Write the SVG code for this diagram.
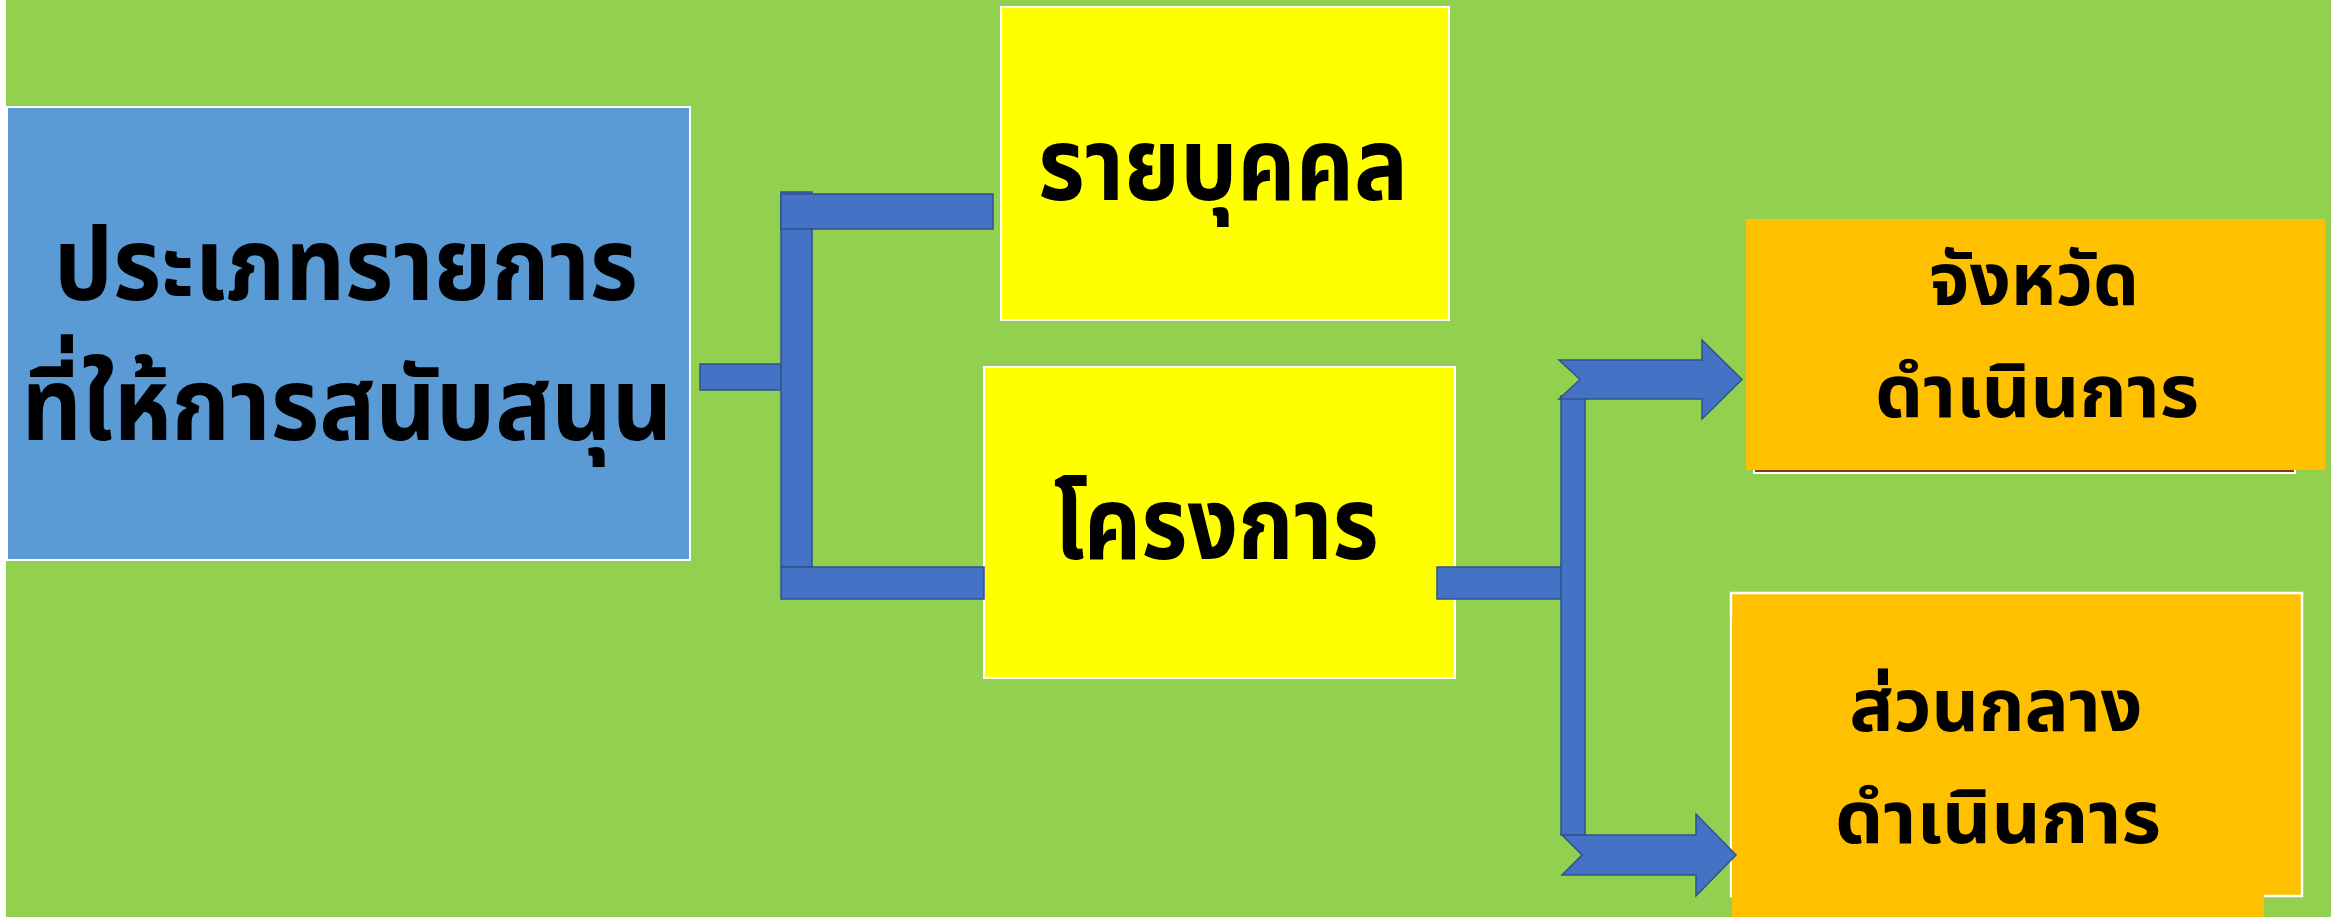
<svg xmlns="http://www.w3.org/2000/svg" width="2331" height="917" viewBox="0 0 2331 917">
  <style>
    .lbl { font-family: "Noto Sans Thai", "Noto Sans", "DejaVu Sans", sans-serif; font-weight: bold; fill: #000; text-anchor: middle; }
    .big { font-size: 102px; }
    .small { font-size: 73px; }
    .bar { fill: #4472C4; stroke: #2F528F; stroke-width: 1.5; }
    .orange { fill: #FFC000; }
    .yellow { fill: #FFFF00; stroke: #FFFFFF; stroke-width: 2; }
  </style>
  <rect x="0" y="0" width="2331" height="917" fill="#FFFFFF"/>
  <rect x="6" y="0" width="2325" height="917" fill="#92D050"/>

  <g id="node-main">
    <rect x="7" y="107" width="683" height="453" fill="#5B9BD5" stroke="#FFFFFF" stroke-width="2"/>
    <text class="lbl big" x="346" y="300" textLength="584" lengthAdjust="spacingAndGlyphs">ประเภทรายการ</text>
    <text class="lbl big" x="347" y="440" textLength="651" lengthAdjust="spacingAndGlyphs">ที่ให้การสนับสนุน</text>
  </g>

  <g id="node-individual">
    <rect class="yellow" x="1001" y="7" width="448" height="313"/>
    <text class="lbl big" x="1223" y="200" textLength="370" lengthAdjust="spacingAndGlyphs">รายบุคคล</text>
  </g>

  <g id="node-project">
    <rect class="yellow" x="984" y="367" width="471" height="311"/>
    <text class="lbl big" x="1216" y="559" textLength="325" lengthAdjust="spacingAndGlyphs">โครงการ</text>
  </g>

  <g id="node-province">
    <rect x="1754" y="230" width="541" height="243" fill="#843C0C" stroke="#FFFFFF" stroke-width="2"/>
    <rect class="orange" x="1746" y="219" width="579" height="251"/>
    <text class="lbl small" x="2034" y="305" textLength="210" lengthAdjust="spacingAndGlyphs">จังหวัด</text>
    <text class="lbl small" x="2037" y="417" textLength="324" lengthAdjust="spacingAndGlyphs">ดำเนินการ</text>
  </g>

  <g id="node-central">
    <rect class="orange" x="1731" y="593" width="571" height="303" stroke="#FFFFFF" stroke-width="2.5"/>
    <rect class="orange" x="1732" y="617" width="532" height="300"/>
    <text class="lbl small" x="1996" y="731" textLength="293" lengthAdjust="spacingAndGlyphs">ส่วนกลาง</text>
    <text class="lbl small" x="1998" y="843" textLength="326" lengthAdjust="spacingAndGlyphs">ดำเนินการ</text>
  </g>

  <g id="connectors">
    <rect class="bar" x="700" y="364" width="81" height="26"/>
    <rect class="bar" x="781" y="192" width="31" height="375"/>
    <rect class="bar" x="781" y="194" width="212" height="35"/>
    <rect class="bar" x="781" y="567" width="203" height="32"/>
    <rect class="bar" x="1437" y="567" width="125" height="32"/>
    <rect class="bar" x="1561" y="396" width="24" height="439"/>
    <polygon class="bar" points="1559,360 1702,360 1702,340 1742,379.5 1702,419 1702,399 1559,399 1580,379.5"/>
    <polygon class="bar" points="1562,835 1696,835 1696,814 1736,855 1696,896 1696,875 1562,875 1582,855"/>
  </g>
</svg>
